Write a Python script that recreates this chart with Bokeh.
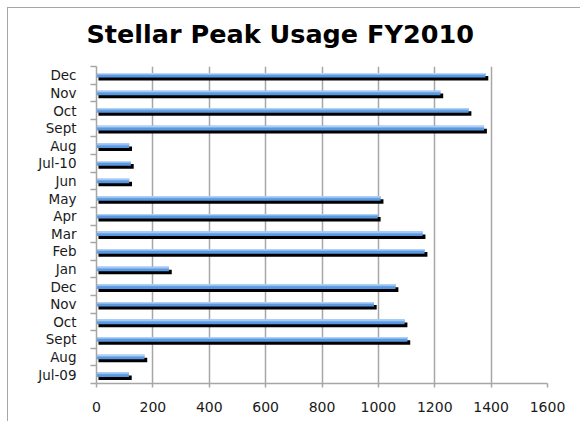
from bokeh.plotting import figure
from bokeh.models import ColumnDataSource, FixedTicker, Title
from bokeh.transform import dodge
from bokeh.embed import file_html
from bokeh.resources import INLINE

# chronological order, bottom (Jul-09) to top (Dec 2010)
months = ["Jul-09", "Aug", "Sept", "Oct", "Nov", "Dec", "Jan", "Feb", "Mar",
          "Apr", "May", "Jun", "Jul-10", "Aug", "Sept", "Oct", "Nov", "Dec"]
peak_usage = [115, 170, 1103, 1093, 984, 1061, 257, 1164, 1157,
              998, 1008, 116, 122, 116, 1375, 1320, 1220, 1380]
x_ticks = [0, 200, 400, 600, 800, 1000, 1200, 1400, 1600]

pos = [i + 0.5 for i in range(len(months))]
src = ColumnDataSource(dict(y=pos, v=peak_usage))

FONT = "DejaVu Sans"

p = figure(width=573, height=414, output_backend="svg", toolbar_location=None,
           x_range=(0, 1600), y_range=(0, len(months)),
           min_border_left=88, min_border_right=34, min_border_top=58, min_border_bottom=39,
           styles={"margin-left": "7px", "margin-top": "7px",
                   "border-left": "1px solid #a6a6a6", "border-top": "1px solid #a6a6a6"})
p.outline_line_color = None
p.background_fill_color = "white"

# title
p.title.text = "Stellar Peak Usage FY2010"
p.title.text_font = FONT
p.title.text_font_style = "bold"
p.title.text_font_size = "25.5px"
p.title.text_color = "#000000"
p.title.align = "left"
p.title.offset = -10
p.title.standoff = 0
# blank spacer between title and plot area
p.add_layout(Title(text=" ", text_font_size="1px", standoff=15), "above")

# x axis
p.xaxis.ticker = FixedTicker(ticks=x_ticks)
p.xaxis.axis_line_color = "#a6a6a6"
p.xaxis.axis_line_width = 1.5
p.xaxis.major_tick_line_color = "#a6a6a6"
p.xaxis.major_tick_line_width = 1.5
p.xaxis.major_tick_out = 4
p.xaxis.major_tick_in = 0
p.xaxis.minor_tick_line_color = None
p.xaxis.major_label_standoff = 14
p.xaxis.major_label_text_font = FONT
p.xaxis.major_label_text_font_size = "14px"
p.xaxis.major_label_text_color = "#1a1a1a"

p.xgrid.ticker = FixedTicker(ticks=x_ticks[1:])
p.xgrid.grid_line_color = "#a6a6a6"
p.xgrid.grid_line_width = 1.5
p.ygrid.grid_line_color = None

# y axis
p.yaxis.ticker = FixedTicker(ticks=pos, minor_ticks=list(range(len(months) + 1)))
p.yaxis.major_label_overrides = {pp: m for pp, m in zip(pos, months)}
p.yaxis.axis_line_color = "#a6a6a6"
p.yaxis.axis_line_width = 1.5
p.yaxis.major_tick_line_color = None
p.yaxis.major_tick_out = 0
p.yaxis.major_tick_in = 0
p.yaxis.minor_tick_line_color = "#a6a6a6"
p.yaxis.minor_tick_line_width = 1.5
p.yaxis.minor_tick_out = 6
p.yaxis.minor_tick_in = 0
p.yaxis.major_label_standoff = 14
p.yaxis.major_label_text_font = FONT
p.yaxis.major_label_text_font_size = "13.5px"
p.yaxis.major_label_text_color = "#1a1a1a"

# shadow
p.hbar(y=dodge("y", -0.17, range=p.y_range), left=7, right=dodge("v", 10),
       height=0.26, source=src, fill_color="black", line_color=None)
# blue bar with light top
p.hbar(y="y", left=0, right="v", height=0.26, source=src,
       fill_color="#5a98e2", line_color=None)
p.hbar(y=dodge("y", 0.075, range=p.y_range), left=0, right="v", height=0.11, source=src,
       fill_color="#8dbbef", line_color=None)
p.hbar(y=dodge("y", 0.105, range=p.y_range), left=0, right="v", height=0.05, source=src,
       fill_color="#bcd8f6", line_color=None)

open("out.html", "w").write(file_html(p, INLINE))
